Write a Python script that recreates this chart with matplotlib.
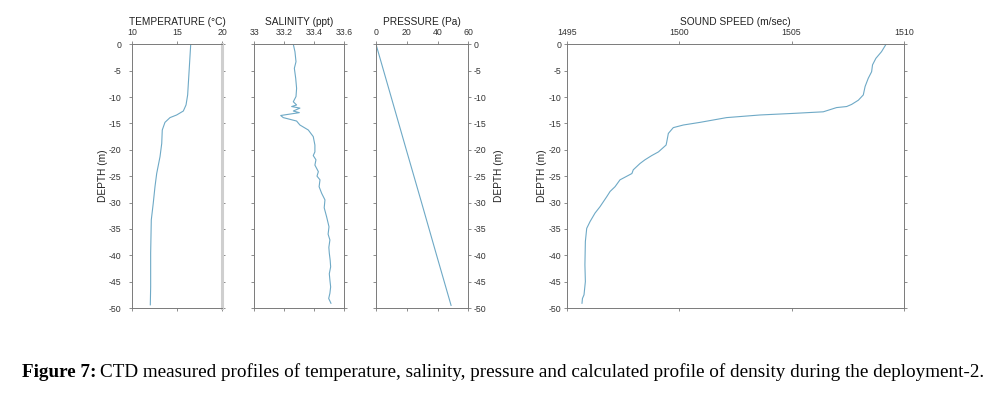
import matplotlib
matplotlib.use("Agg")
import matplotlib.pyplot as plt

# ---------------- data ----------------
temp_depth = [0, -4.55, -9.6, -11.5, -12.65, -13.4, -13.9, -14.8, -16.25, -18.8,
              -21.3, -24.5, -27.0, -30.1, -33.3, -39.6, -46.0, -49.4]
temp_vals = [16.49, 16.33, 16.15, 15.97, 15.67, 14.93, 14.19, 13.63, 13.33, 13.27,
             13.08, 12.71, 12.52, 12.33, 12.11, 12.04, 12.04, 12.0]

sal_depth = [0, -1.4, -3.3, -4.55, -6.45, -8.35, -9.9, -10.9, -11.5, -11.8, -12.1,
             -12.65, -12.96, -13.5, -13.9, -14.55, -15.3, -16.25, -17.5, -19.1,
             -20.4, -21.1, -21.9, -22.9, -24.15, -25.0, -25.7, -27.0, -28.25,
             -29.5, -31.0, -32.7, -34.6, -36.0, -37.1, -38.5, -39.6, -41.0, -42.2,
             -43.5, -44.7, -46.0, -47.2, -48.2, -49.1]
sal_vals = [33.26, 33.271, 33.278, 33.267, 33.276, 33.282, 33.278, 33.26, 33.282,
            33.249, 33.304, 33.26, 33.30, 33.176, 33.193, 33.282, 33.304, 33.36,
            33.393, 33.404, 33.404, 33.393, 33.411, 33.404, 33.427, 33.418, 33.438,
            33.432, 33.449, 33.471, 33.466, 33.482, 33.498, 33.492, 33.504, 33.497,
            33.50, 33.506, 33.509, 33.500, 33.504, 33.509, 33.504, 33.496, 33.511]

pres_depth = [0, -10, -20, -30, -40, -49.5]
pres_vals = [0, 9.86, 19.7, 29.6, 39.4, 48.8]

ss_depth = [0, -1.4, -2.66, -3.9, -5.2, -6.45, -8.0, -9.6, -10.6, -11.4, -11.8,
            -12.0, -12.8, -13.1, -13.4, -13.9, -14.8, -15.3, -15.8, -16.9, -18.5,
            -19.1, -20.4, -21.1, -21.9, -22.6, -23.8, -24.5, -25.7, -27.0, -27.9,
            -28.9, -30.8, -32.0, -33.6, -34.9, -37.4, -41.8, -45.0, -47.5, -48.2,
            -49.1]
ss_vals = [1509.2, 1509.0, 1508.75, 1508.6, 1508.56, 1508.41, 1508.27, 1508.19,
           1507.97, 1507.67, 1507.45, 1507.0, 1506.41, 1505.08, 1503.6, 1502.11,
           1500.93, 1500.19, 1499.74, 1499.52, 1499.45, 1499.42, 1499.08, 1498.78,
           1498.48, 1498.26, 1497.96, 1497.9, 1497.37, 1497.15, 1496.93, 1496.78,
           1496.48, 1496.26, 1496.04, 1495.89, 1495.83, 1495.81, 1495.83, 1495.77,
           1495.7, 1495.68]

depth_ticks = list(range(0, -55, -5))

# ---------------- style ----------------
plt.rcParams['font.family'] = ['Liberation Sans', 'DejaVu Sans']
plt.rcParams['axes.unicode_minus'] = False
LINE = '#6ea9c6'
SPINE = '#7a7a7a'
TICKFS = 6.3
LABFS = 7.3

W, H = 993, 393
fig = plt.figure(figsize=(W / 100, H / 100), dpi=100)


def make_ax(x0, x1, y0=44.3, y1=308.0):
    return fig.add_axes([x0 / W, 1 - y1 / H, (x1 - x0) / W, (y1 - y0) / H])


def style(ax, xlim, xticks, xlabel, ylabels='left', ylabel=True, ypad=1.0, ytpad=2.5):
    ax.set_xlim(*xlim)
    ax.set_ylim(-50, 0)
    ax.set_xticks(xticks)
    ax.set_yticks(depth_ticks)
    ax.set_xticklabels([('%g' % t) for t in xticks])
    ax.xaxis.set_label_position('top')
    ax.set_xlabel(xlabel, fontsize=LABFS, labelpad=2.5, color='#222222')
    ax.tick_params(axis='both', which='both', direction='out', length=2.5,
                   width=0.6, color=SPINE, labelsize=TICKFS, labelcolor='#333333',
                   top=True, bottom=True, left=True, right=True,
                   labeltop=True, labelbottom=False,
                   labelleft=(ylabels == 'left'), labelright=(ylabels == 'right'),
                   pad=2.5)
    ax.tick_params(axis='y', pad=ytpad)
    for s in ax.spines.values():
        s.set_color(SPINE)
        s.set_linewidth(0.7)
    if ylabel:
        if ylabels == 'right':
            ax.yaxis.set_label_position('right')
        ax.set_ylabel('DEPTH (m)', fontsize=LABFS, color='#222222', labelpad=ypad)


# Temperature
ax1 = make_ax(132.3, 222.3)
ax1.plot(temp_vals, temp_depth, color=LINE, lw=0.8)
style(ax1, (10, 20), [10, 15, 20], 'TEMPERATURE (°C)', 'left', ypad=0.5, ytpad=5.5)
ax1.spines['right'].set_color('#cfcfcf')
ax1.spines['right'].set_linewidth(2.2)

# Salinity
ax2 = make_ax(254.3, 344.3)
ax2.plot(sal_vals, sal_depth, color=LINE, lw=0.8)
style(ax2, (33.0, 33.6), [33.0, 33.2, 33.4, 33.6], 'SALINITY (ppt)', None, ylabel=False)

# Pressure
ax3 = make_ax(376.0, 468.3)
ax3.plot(pres_vals, pres_depth, color=LINE, lw=0.8)
style(ax3, (0, 60), [0, 20, 40, 60], 'PRESSURE (Pa)', 'right', ypad=5, ytpad=1.5)

# Sound speed
ax4 = make_ax(566.7, 904.0)
ax4.plot(ss_vals, ss_depth, color=LINE, lw=0.8)
style(ax4, (1495, 1510), [1495, 1500, 1505, 1510], 'SOUND SPEED (m/sec)', 'left',
      ypad=1.0, ytpad=1.5)

# ---------------- caption ----------------
CAPFS = 13.8
cap_y = 1 - 377 / H
t1 = fig.text(22 / W, cap_y, 'Figure 7:', fontsize=CAPFS, fontweight='bold',
              family=['Liberation Serif', 'DejaVu Serif'], va='baseline')
fig.canvas.draw()
bb = t1.get_window_extent(renderer=fig.canvas.get_renderer())
fig.text(bb.x1 / W + 4 / W, cap_y,
         'CTD measured profiles of temperature, salinity, pressure and calculated '
         'profile of density during the deployment-2.',
         fontsize=CAPFS, family=['Liberation Serif', 'DejaVu Serif'], va='baseline')

fig.savefig('out.png', dpi=100)
